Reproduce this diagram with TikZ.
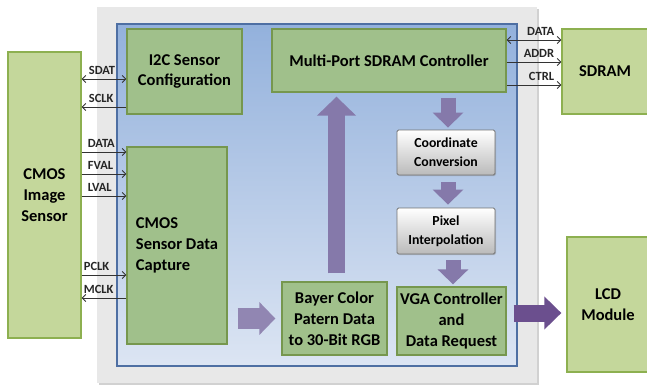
\documentclass[tikz,border=0pt]{standalone}
\usepackage{fontspec}
\setmainfont{Carlito}
\usetikzlibrary{arrows.meta,shadows,calc}
\definecolor{outerfill}{HTML}{C4D79B}
\definecolor{outerline}{HTML}{8DB050}
\definecolor{innerfill}{HTML}{A0C08B}
\definecolor{innerline}{HTML}{76974E}
\definecolor{bluetop}{HTML}{93B1DC}
\definecolor{bluebot}{HTML}{DCE5F3}
\definecolor{blueline}{HTML}{4E6FA3}
\definecolor{grayfill}{HTML}{E8E8E8}
\definecolor{arrowA}{HTML}{8579AA}
\definecolor{arrowB}{HTML}{6B4F8E}
\definecolor{sigcol}{HTML}{333333}
\tikzset{
  mainfont/.style={font=\bfseries\fontsize{16.5}{21}\selectfont},
  outerbox/.style={draw=outerline, fill=outerfill, line width=1.3pt, inner sep=0pt, align=center, mainfont},
  innerbox/.style={draw=innerline, fill=innerfill, line width=1.3pt, inner sep=0pt, align=center, mainfont},
  graybox/.style={draw=black!55, line width=0.9pt, rounded corners=1.5pt, top color=white, bottom color=black!27, inner sep=0pt, align=center, font=\bfseries\fontsize{13.8}{19}\selectfont, drop shadow={shadow xshift=1pt, shadow yshift=-1pt, opacity=0.35}},
  sig/.style={draw=sigcol, line width=0.9pt},
  sigtip/.style={sig, -{Straight Barb[length=3.5pt,width=7pt]}},
  sigboth/.style={sig, {Straight Barb[length=3.5pt,width=7pt]}-{Straight Barb[length=3.5pt,width=7pt]}},
  siglab/.style={inner sep=0pt, font=\bfseries\fontsize{12.5}{14}\selectfont, text=black!85},
  fatv/.style={draw=arrowA, line width=15pt, -{Triangle[length=15pt,width=30pt]}},
  fatup/.style={draw=arrowA, line width=17pt, -{Triangle[length=19pt,width=38pt]}},
  fatr/.style={draw=arrowA!90, line width=21pt, -{Triangle[length=16pt,width=32pt]}},
  fatlcd/.style={draw=arrowB, line width=17pt, -{Triangle[length=17pt,width=32pt]}},
}
\begin{document}
\begin{tikzpicture}[x=1pt,y=-1pt]
\useasboundingbox (0,0) rectangle (647,388);
% background frames
\node[fill=black!18, minimum width=440pt, minimum height=376pt, inner sep=0pt] (shadow) at (319,197) {};
\node[fill=grayfill, minimum width=440pt, minimum height=376pt, inner sep=0pt] (board) at (317,195) {};
\node[draw=blueline, line width=1.6pt, top color=bluetop, bottom color=bluebot, minimum width=400pt, minimum height=342pt, inner sep=0pt] (fpga) at (317,195) {};
% external blocks
\node[outerbox, minimum width=73pt, minimum height=286pt] (cmos) at (44.5,195) {CMOS\\Image\\Sensor};
\node[outerbox, minimum width=86pt, minimum height=85pt] (sdram) at (605,71.5) {SDRAM};
\node[outerbox, minimum width=82pt, minimum height=135pt] (lcd) at (608,304.5) {LCD\\Module};
% internal blocks
\node[innerbox, minimum width=115pt, minimum height=85pt] (i2c) at (184.5,71.5) {I2C Sensor\\[-1pt]Configuration};
\node[innerbox, minimum width=100pt, minimum height=197pt, align=left] (cap) at (177,245.5) {CMOS\\Sensor Data\\Capture};
\node[innerbox, minimum width=234pt, minimum height=63pt] (ctrl) at (389,60.5) {Multi-Port SDRAM Controller};
\node[innerbox, minimum width=105pt, minimum height=73pt] (bayer) at (334.5,318.5) {Bayer Color\\Patern Data\\to 30-Bit RGB};
\node[innerbox, minimum width=109pt, minimum height=68pt] (vga) at (451.5,321) {VGA Controller\\and\\Data Request};
\node[graybox, minimum width=98pt, minimum height=45pt] (coord) at (446,152.5) {Coordinate\\Conversion};
\node[graybox, minimum width=98pt, minimum height=46pt] (pix) at (446,231) {Pixel\\Interpolation};
% fat arrows
\draw[fatup] ([xshift=2pt,yshift=8pt]bayer.north) -- ([xshift=2pt,yshift=-4pt]bayer.north |- ctrl.south);
\draw[fatv] ([xshift=2pt,yshift=-5pt]coord.north |- ctrl.south) -- ([xshift=2pt,yshift=2pt]coord.north);
\draw[fatv] ([xshift=2pt,yshift=-7pt]coord.south) -- ([xshift=2pt,yshift=3pt]pix.north);
\draw[fatv] ([xshift=1.5pt,yshift=-6pt]vga.north |- pix.south) -- ([xshift=1.5pt,yshift=2pt]vga.north);
\coordinate (rstart) at ([xshift=10pt]cap.east |- bayer.west);
\draw[fatr] (rstart) -- ([xshift=-6pt]bayer.west);
\coordinate (lstart) at ([xshift=7pt,yshift=8pt]vga.east);
\draw[fatlcd] (lstart) -- ([xshift=-5pt]lcd.west |- lstart);
% signal lines left
\coordinate (sdat) at ([yshift=-7.5pt]i2c.west);
\coordinate (sclk) at ([yshift=-35.5pt]i2c.west);
\coordinate (data) at ([yshift=93.5pt]cap.west);
\coordinate (fval) at ([yshift=71.5pt]cap.west);
\coordinate (lval) at ([yshift=49.5pt]cap.west);
\coordinate (pclk) at ([yshift=-29.5pt]cap.west);
\coordinate (mclk) at ([yshift=-52.5pt]cap.west);
\draw[sigboth] (cmos.east |- sdat) -- (sdat);
\draw[sigtip] (sclk) -- (cmos.east |- sclk);
\draw[sigtip] (cmos.east |- data) -- (data);
\draw[sigtip] (cmos.east |- fval) -- (fval);
\draw[sigtip] (cmos.east |- lval) -- (lval);
\draw[sigtip] (cmos.east |- pclk) -- (pclk);
\draw[sigtip] (mclk) -- (cmos.east |- mclk);
\node[siglab, anchor=base west] (lsdat) at ([xshift=7pt,yshift=5pt]cmos.east |- sdat) {SDAT};
\node[siglab, anchor=base west] (lsclk) at ([xshift=7pt,yshift=5pt]cmos.east |- sclk) {SCLK};
\node[siglab, anchor=base west] (ldata) at ([xshift=6pt,yshift=5pt]cmos.east |- data) {DATA};
\node[siglab, anchor=base west] (lfval) at ([xshift=6pt,yshift=5pt]cmos.east |- fval) {FVAL};
\node[siglab, anchor=base west] (llval) at ([xshift=6pt,yshift=5pt]cmos.east |- lval) {LVAL};
\node[siglab, anchor=base west] (lpclk) at ([xshift=2pt,yshift=5pt]cmos.east |- pclk) {PCLK};
\node[siglab, anchor=base west] (lmclk) at ([xshift=2pt,yshift=5pt]cmos.east |- mclk) {MCLK};
% signal lines right
\coordinate (rdata) at ([yshift=20.5pt]ctrl.east);
\coordinate (raddr) at ([yshift=-1.5pt]ctrl.east);
\coordinate (rctrl) at ([yshift=-24.5pt]ctrl.east);
\draw[sigboth] (rdata) -- (sdram.west |- rdata);
\draw[sigtip] (raddr) -- (sdram.west |- raddr);
\draw[sigtip] (rctrl) -- (sdram.west |- rctrl);
\node[siglab, anchor=base east] (lrdata) at ([xshift=-7pt,yshift=5pt]sdram.west |- rdata) {DATA};
\node[siglab, anchor=base east] (lraddr) at ([xshift=-7pt,yshift=5pt]sdram.west |- raddr) {ADDR};
\node[siglab, anchor=base east] (lrctrl) at ([xshift=-7pt,yshift=5pt]sdram.west |- rctrl) {CTRL};
\end{tikzpicture}
\end{document}
